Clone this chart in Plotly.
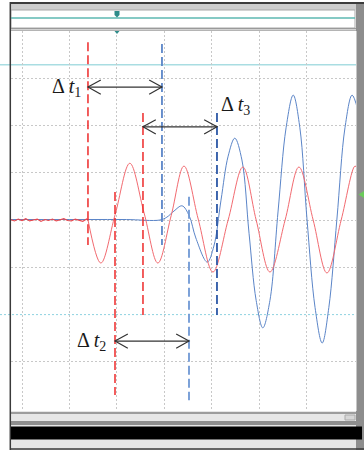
import plotly.graph_objects as go

# time axis in divisions, amplitude in divisions
red_base_t = [-0.24, -0.16, -0.08, 0.0, 0.08, 0.16, 0.24, 0.32, 0.4, 0.48, 0.56, 0.64,
              0.72, 0.8, 0.88, 0.96, 1.04, 1.12, 1.2, 1.28, 1.36, 1.39]
red_base_v = [0.01, -0.02, 0.02, -0.01, 0.03, -0.02, 0.0, 0.02, -0.03, 0.01, -0.01, 0.02,
              -0.02, 0.01, 0.03, -0.01, -0.02, 0.02, 0.0, -0.03, 0.02, 0.0]

red_t = [1.39, 1.66, 1.96, 2.27, 2.57, 2.86, 3.14, 3.41, 3.71, 4.02, 4.34, 4.65,
         4.93, 5.22, 5.54, 5.83, 6.13, 6.42, 6.72, 7.01, 7.06]
red_v = [0.0, -0.91, 0.11, 1.2, 0.15, -0.91, 0.09, 1.14, 0.02, -1.1, 0.0, 1.12,
         0.0, -1.1, 0.0, 1.12, 0.0, -1.12, 0.0, 1.14, 1.1]

blue_t = [-0.24, 0.6, 1.39, 2.2, 2.905, 3.05, 3.2, 3.37, 3.52, 3.66, 3.9, 4.04,
          4.19, 4.34, 4.48, 4.63, 4.78, 4.93, 5.07, 5.22, 5.39, 5.56, 5.71, 5.85,
          6.0, 6.17, 6.32, 6.46, 6.63, 6.8, 6.95, 7.07]
blue_v = [0.01, 0.01, 0.01, 0.01, 0.0, 0.06, 0.19, 0.3, 0.09, -0.38, -0.89, -0.55,
          0.42, 1.35, 1.73, 1.27, -0.28, -1.7, -2.28, -1.7, 0.17, 1.95, 2.64, 1.95,
          0.02, -1.85, -2.6, -1.85, 0.02, 1.95, 2.64, 2.33]

# cursor positions: (time, top, bottom)
red_cursors = [(1.389, 3.76, -0.53), (1.958, 0.59, -3.70), (2.547, 2.26, -2.01)]
blue_cursors = [(2.947, 3.72, -0.53), (3.516, 0.49, -3.81), (4.105, 2.26, -2.01)]
cursor_blue_colors = ["#5b86c8", "#6f98d4", "#2d58a6"]

# delta-t arrows: (start, end, level)
arrows = [(1.389, 2.947, 2.81), (1.958, 3.516, -2.56), (2.547, 4.105, 1.97)]
labels = ["Δ <i>t</i><sub>1</sub>", "Δ <i>t</i><sub>2</sub>", "Δ <i>t</i><sub>3</sub>"]
label_pos = [(1.29, 2.81, "right"), (1.82, -2.56, "right"), (4.15, 2.43, "left")]

W, H = 364, 450
HEAD_DX, HEAD_DY = 0.27, 0.15


def fx(p):
    return p / W


def fy(p):
    return 1 - p / H


fig = go.Figure()

fig.add_trace(go.Scatter(x=blue_t, y=blue_v, mode="lines",
                         line=dict(color="#5b85c8", width=1, shape="spline", smoothing=1)))
fig.add_trace(go.Scatter(x=red_base_t, y=red_base_v, mode="lines",
                         line=dict(color="#e8474f", width=1.2)))
fig.add_trace(go.Scatter(x=red_t, y=red_v, mode="lines",
                         line=dict(color="#f26a70", width=1, shape="spline", smoothing=1)))

shapes = []

# reference lines inside the plot
shapes.append(dict(type="line", xref="paper", yref="y", x0=0, x1=1, y0=3.28, y1=3.28,
                   line=dict(color="#a9dde2", width=1.5), layer="below"))
shapes.append(dict(type="line", xref="paper", yref="y", x0=0, x1=1, y0=-2, y1=-2,
                   line=dict(color="#8fd2e0", width=1, dash="2px,2px"), layer="below"))

# cursors
for t, top, bot in red_cursors:
    shapes.append(dict(type="line", xref="x", yref="y", x0=t, x1=t, y0=top, y1=bot,
                       line=dict(color="#ee2a2a", width=1.5, dash="9px,4px")))
for (t, top, bot), c in zip(blue_cursors, cursor_blue_colors):
    shapes.append(dict(type="line", xref="x", yref="y", x0=t, x1=t, y0=top, y1=bot,
                       line=dict(color=c, width=1.8, dash="9px,4px")))

# double arrows with open heads
for a, b, lv in arrows:
    shapes.append(dict(type="line", xref="x", yref="y", x0=a, x1=b, y0=lv, y1=lv,
                       line=dict(color="#333333", width=1.2)))
    shapes.append(dict(type="path", xref="x", yref="y",
                       path=f"M{a + HEAD_DX},{lv + HEAD_DY} L{a},{lv} L{a + HEAD_DX},{lv - HEAD_DY}",
                       line=dict(color="#333333", width=1.2)))
    shapes.append(dict(type="path", xref="x", yref="y",
                       path=f"M{b - HEAD_DX},{lv + HEAD_DY} L{b},{lv} L{b - HEAD_DX},{lv - HEAD_DY}",
                       line=dict(color="#333333", width=1.2)))

# window frame
shapes += [
    dict(type="rect", xref="paper", yref="paper", x0=fx(10), x1=1, y0=fy(4), y1=fy(2),
         fillcolor="#3c3c3c", line_width=0),
    dict(type="rect", xref="paper", yref="paper", x0=fx(10), x1=1, y0=fy(10), y1=fy(4),
         fillcolor="#cdcdcd", line_width=0),
    dict(type="rect", xref="paper", yref="paper", x0=fx(11), x1=fx(355), y0=fy(28), y1=fy(10),
         fillcolor="white", line=dict(color="#a8a8a8", width=1)),
    dict(type="line", xref="paper", yref="paper", x0=fx(11), x1=fx(355), y0=fy(18), y1=fy(18),
         line=dict(color="#5cb8b2", width=1.5)),
    dict(type="rect", xref="paper", yref="paper", x0=fx(11), x1=fx(356), y0=fy(31), y1=fy(28),
         fillcolor="#d2d2d2", line_width=0),
    dict(type="line", xref="paper", yref="paper", x0=fx(11), x1=fx(356), y0=fy(28.5), y1=fy(28.5),
         line=dict(color="#9a9a9a", width=1)),
    dict(type="line", xref="paper", yref="paper", x0=fx(11), x1=fx(356), y0=fy(30.5), y1=fy(30.5),
         line=dict(color="#b4b4b4", width=1)),
    dict(type="rect", xref="paper", yref="paper", x0=fx(356), x1=1, y0=0, y1=fy(4),
         fillcolor="#8d8d8d", line_width=0),
    dict(type="line", xref="paper", yref="paper", x0=fx(356.5), x1=fx(356.5), y0=fy(411), y1=fy(31),
         line=dict(color="#c6c6c6", width=1)),
    dict(type="rect", xref="paper", yref="paper", x0=fx(11), x1=fx(356), y0=0, y1=fy(411),
         fillcolor="#e6e6e6", line_width=0),
    dict(type="line", xref="paper", yref="paper", x0=fx(11), x1=fx(356), y0=fy(413), y1=fy(413),
         line=dict(color="#9c9c9c", width=2)),
    dict(type="rect", xref="paper", yref="paper", x0=fx(345), x1=fx(355), y0=fy(420), y1=fy(415),
         fillcolor="#d6d6d6", line=dict(color="#aaaaaa", width=1)),
    dict(type="rect", xref="paper", yref="paper", x0=fx(11), x1=fx(362), y0=fy(425), y1=fy(421),
         fillcolor="#8e8e8e", line_width=0),
    dict(type="rect", xref="paper", yref="paper", x0=fx(11), x1=fx(362), y0=fy(439.5), y1=fy(426.5),
         fillcolor="#000000", line_width=0),
    dict(type="line", xref="paper", yref="paper", x0=fx(10), x1=1, y0=fy(449), y1=fy(449),
         line=dict(color="#3a3a3a", width=1.5)),
    dict(type="line", xref="paper", yref="paper", x0=fx(10.3), x1=fx(10.3), y0=0, y1=fy(2),
         line=dict(color="#3a3a3a", width=1.5)),
    # trigger markers
    dict(type="path", xref="paper", yref="paper",
         path=f"M{fx(114.5)},{fy(11)} L{fx(119.5)},{fy(11)} L{fx(119.5)},{fy(15)} "
              f"L{fx(117)},{fy(17.5)} L{fx(114.5)},{fy(15)} Z",
         fillcolor="#2e8c8a", line_width=0),
    dict(type="path", xref="paper", yref="paper",
         path=f"M{fx(114.5)},{fy(31)} L{fx(119.5)},{fy(31)} L{fx(117)},{fy(34)} Z",
         fillcolor="#2e8c8a", line_width=0),
    dict(type="path", xref="paper", yref="paper",
         path=f"M{fx(364)},{fy(191)} L{fx(358.5)},{fy(194.5)} L{fx(364)},{fy(198)} Z",
         fillcolor="#6acb5a", line_width=0),
]

annotations = []
for txt, (x, y, anc) in zip(labels, label_pos):
    annotations.append(dict(x=x, y=y, xref="x", yref="y", text=txt, showarrow=False,
                            xanchor=anc, yanchor="middle",
                            font=dict(family="Liberation Serif", size=20, color="#1a1a1a")))

fig.update_layout(
    width=W, height=H, autosize=False,
    margin=dict(l=0, r=0, t=0, b=0),
    paper_bgcolor="white", plot_bgcolor="white",
    showlegend=False,
    shapes=shapes, annotations=annotations,
    xaxis=dict(domain=[fx(11), fx(356)], range=[-0.2316, 7.032], tickvals=[0, 1, 2, 3, 4, 5, 6],
               showticklabels=False, showgrid=True, gridcolor="#c8c8c8", griddash="2px,2px",
               gridwidth=1, zeroline=False, showline=False, ticks=""),
    yaxis=dict(domain=[fy(411), fy(31)], range=[-4.038, 3.996], tickvals=[-3, -1, 0, 1, 2, 3],
               showticklabels=False, showgrid=True, gridcolor="#c8c8c8", griddash="2px,2px",
               gridwidth=1, zeroline=False, showline=False, ticks=""),
)

# drop the page's default body margin so the figure sits at the window corner
fig.write_html("out.html", config={"displayModeBar": False},
               post_script="document.body.style.margin='0';")
